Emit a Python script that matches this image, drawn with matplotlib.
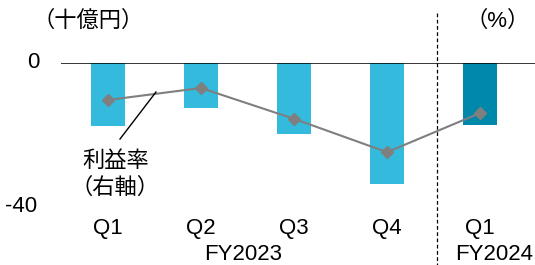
import matplotlib
matplotlib.use("Agg")
import matplotlib.pyplot as plt
from matplotlib.transforms import blended_transform_factory

plt.rcParams['font.family'] = ['Liberation Sans', 'Noto Sans CJK JP', 'DejaVu Sans']

quarters = ["Q1", "Q2", "Q3", "Q4", "Q1"]
fiscal_years = ["FY2023", "FY2024"]
profit = [-17.3, -12.3, -19.6, -33.4, -17.0]          # 十億円
margin = [-10.2, -6.9, -15.4, -24.6, -13.8]           # % (right axis)
bar_colors = ["#33BADD", "#33BADD", "#33BADD", "#33BADD", "#0088AA"]

W, H = 535, 265
fig = plt.figure(figsize=(W / 100, H / 100), dpi=100)
ax = fig.add_axes([61 / W, 1 - 208 / H, 1 - 61 / W, 145 / H])
ax2 = ax.twinx()

x = list(range(len(quarters)))
ax.bar(x, profit, width=0.366, color=bar_colors, zorder=2)
ax.set_ylim(-40, 0)
ax.set_xlim(-0.505, 4.59)
ax.axhline(0, color="black", lw=1.1, zorder=3)

ax2.plot(x, margin, color="#7F7F7F", lw=1.5, marker="D", markersize=6.5, zorder=4)
ax2.set_ylim(-40, 0)

for a in (ax, ax2):
    for s in a.spines.values():
        s.set_visible(False)
    a.set_xticks([])
    a.set_yticks([])

# vertical dashed divider
tr = blended_transform_factory(ax.transData, ax.transAxes)
ax.plot([3.54, 3.54], [(208 - 13) / 145, (208 - 266) / 145], transform=tr,
        color="black", lw=0.9, ls=(0, (3, 2)), clip_on=False, zorder=5)

fs = 16
for xi, q in zip(x, quarters):
    ax.text(xi, -0.138, q, transform=tr, ha="center", va="center", fontsize=fs)
ax.text(1.45, -0.324, fiscal_years[0], transform=tr, ha="center", va="center", fontsize=fs)
ax.text(4.15, -0.324, fiscal_years[1], transform=tr, ha="center", va="center", fontsize=fs)

# y labels
fig.text(33 / W, 1 - 63 / H, "0", ha="center", va="center", fontsize=fs)
fig.text(21 / W, 1 - 207 / H, "-40", ha="center", va="center", fontsize=fs)
fig.text(88 / W, 1 - 21 / H, "（十億円）", ha="center", va="center", fontsize=fs)
fig.text(530 / W, 1 - 21 / H, "（%）", ha="right", va="center", fontsize=fs)

# annotation
fig.text(116 / W, 1 - 161 / H, "利益率", ha="center", va="center", fontsize=fs)
fig.text(115 / W, 1 - 188 / H, "（右軸）", ha="center", va="center", fontsize=fs)
fig.add_artist(plt.Line2D([156 / W, 120 / W], [1 - 92 / H, 1 - 139 / H],
                          transform=fig.transFigure, color="black", lw=1.0))

fig.savefig("out.png", dpi=100)
